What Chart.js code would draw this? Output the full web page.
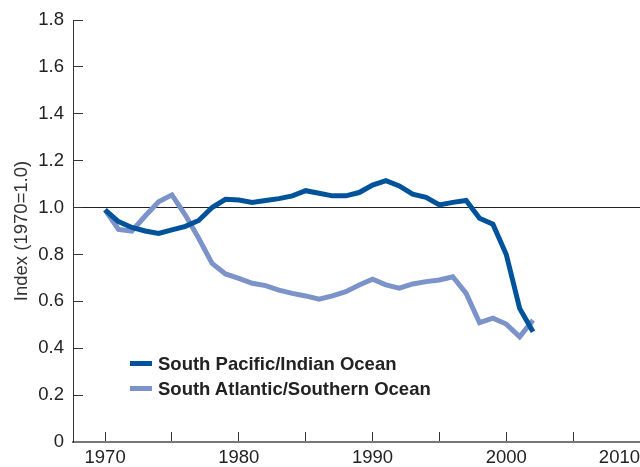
<!DOCTYPE html>
<html>
<head>
<meta charset="utf-8">
<script src="https://cdn.jsdelivr.net/npm/chart.js@4.4.0/dist/chart.umd.min.js"></script>
<style>
  html, body { margin: 0; padding: 0; background: #fff; overflow: hidden; }
  #wrap { position: relative; width: 640px; height: 467px; }
  #legend {
    position: absolute; left: 130px; top: 351px;
    font: bold 18.5px "Liberation Sans", Arial, sans-serif; color: #222;
  }
  .item { display: flex; align-items: center; height: 25px; white-space: nowrap; }
  .swatch { width: 22px; height: 5px; margin-right: 6px; }
</style>
</head>
<body>
<div id="wrap">
  <canvas id="chart" width="640" height="467"></canvas>
  <div id="legend"></div>
</div>
<script>
// 資料
const years = [1970, 1971, 1972, 1973, 1974, 1975, 1976, 1977, 1978, 1979,
               1980, 1981, 1982, 1983, 1984, 1985, 1986, 1987, 1988, 1989,
               1990, 1991, 1992, 1993, 1994, 1995, 1996, 1997, 1998, 1999,
               2000, 2001, 2002];
const pacificIndian = [0.99, 0.94, 0.915, 0.90, 0.89, 0.905, 0.92, 0.945, 1.00, 1.035,
                       1.032, 1.022, 1.03, 1.038, 1.05, 1.072, 1.061, 1.05, 1.05, 1.064,
                       1.096, 1.115, 1.092, 1.057, 1.044, 1.011, 1.022, 1.03, 0.954, 0.929,
                       0.80, 0.57, 0.47];
const atlanticSouthern = [0.99, 0.907, 0.90, 0.964, 1.025, 1.054, 0.968, 0.869, 0.762, 0.717,
                          0.698, 0.677, 0.667, 0.648, 0.634, 0.623, 0.609, 0.623, 0.641, 0.67,
                          0.694, 0.67, 0.656, 0.674, 0.684, 0.691, 0.705, 0.634, 0.509, 0.528,
                          0.503, 0.449, 0.52];
const seriesLabels = ['South Pacific/Indian Ocean', 'South Atlantic/Southern Ocean'];
const seriesColors = ['#00529b', '#7b93c8'];
const xTicks = [1970, 1975, 1980, 1985, 1990, 1995, 2000, 2005, 2010];
const xMin = 1967.6, xMax = 2010;
const yMin = 0, yMax = 1.8, yStep = 0.2;
const yAxisTitle = 'Index (1970=1.0)';

const FONT = '"Liberation Sans", Arial, sans-serif';
const FONT_SIZE = 18.5;

const toPoints = (vals) => vals.map((v, i) => ({ x: years[i], y: v }));

const chart = new Chart(document.getElementById('chart'), {
  type: 'line',
  data: {
    datasets: [
      {
        label: seriesLabels[0],
        data: toPoints(pacificIndian),
        borderColor: seriesColors[0],
        backgroundColor: seriesColors[0],
        borderWidth: 5,
        pointRadius: 0,
        tension: 0,
        fill: false
      },
      {
        label: seriesLabels[1],
        data: toPoints(atlanticSouthern),
        borderColor: seriesColors[1],
        backgroundColor: seriesColors[1],
        borderWidth: 5,
        pointRadius: 0,
        tension: 0,
        fill: false
      }
    ]
  },
  options: {
    responsive: false,
    animation: false,
    layout: { padding: { top: 20, left: 0, right: 0, bottom: 0 } },
    plugins: {
      legend: { display: false },
      tooltip: { enabled: false }
    },
    scales: {
      x: {
        type: 'linear',
        min: xMin,
        max: xMax,
        afterBuildTicks: (scale) => {
          // 最前面放一個空白刻度，讓 1970 置中、2010 靠右
          scale.ticks = [{ value: xMin }].concat(xTicks.map(v => ({ value: v })));
        },
        afterFit: (scale) => {
          scale.height = 25;
          scale.paddingLeft = 0;
          scale.paddingRight = 0;
        },
        ticks: {
          autoSkip: false,
          maxRotation: 0,
          align: 'inner',
          padding: 15,
          color: '#222',
          font: { family: FONT, size: FONT_SIZE },
          callback: (v) => (v % 10 === 0 ? String(v) : '')
        },
        grid: {
          drawOnChartArea: false,
          tickLength: -10,
          tickColor: (ctx) => (ctx.index === 0 ? 'rgba(0,0,0,0)' : '#333')
        },
        border: { color: '#777', width: 2 }
      },
      y: {
        min: yMin,
        max: yMax,
        afterFit: (scale) => {
          scale.width = 73;
          scale.paddingTop = 0;
          scale.paddingBottom = 0;
        },
        ticks: {
          stepSize: yStep,
          padding: 19,
          color: '#222',
          font: { family: FONT, size: FONT_SIZE },
          callback: (v) => (Math.abs(v) < 1e-9 ? '0' : v.toFixed(1))
        },
        grid: {
          drawOnChartArea: true,
          tickLength: -10,
          tickColor: '#333',
          color: (ctx) => (ctx.tick && Math.abs(ctx.tick.value - 1) < 1e-6 ? '#222' : 'rgba(0,0,0,0)')
        },
        border: { color: '#333', width: 1 },
        title: {
          display: true,
          text: yAxisTitle,
          color: '#333',
          font: { family: FONT, size: FONT_SIZE },
          padding: { top: 11, bottom: 0 }
        }
      }
    }
  }
});

// 圖例
const legend = document.getElementById('legend');
chart.data.datasets.forEach(ds => {
  const item = document.createElement('div');
  item.className = 'item';
  item.innerHTML = `<span class="swatch" style="background:${ds.borderColor}"></span><span>${ds.label}</span>`;
  legend.appendChild(item);
});
</script>
</body>
</html>
